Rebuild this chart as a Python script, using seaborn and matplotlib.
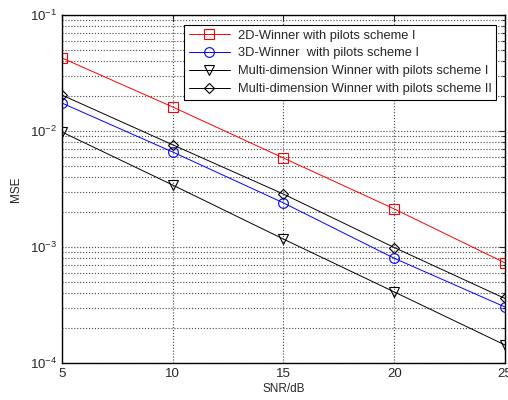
import numpy as np
import pandas as pd
import matplotlib
matplotlib.use("Agg")
import matplotlib.pyplot as plt
import seaborn as sns
from matplotlib.ticker import LogLocator, NullFormatter, FixedLocator

# data
snr = [5, 10, 15, 20, 25]
mse_2d = [0.0426, 0.0161, 0.00585, 0.00213, 0.00073]
mse_3d = [0.0174, 0.00659, 0.0024, 0.00080, 0.000304]
mse_md1 = [0.0098, 0.00342, 0.00117, 0.00041, 0.000143]
mse_md2 = [0.0204, 0.0076, 0.00286, 0.00099, 0.00036]

labels = ["2D-Winner with pilots scheme I",
          "3D-Winner  with pilots scheme I",
          "Multi-dimension Winner with pilots scheme I",
          "Multi-dimension Winner with pilots scheme II"]
colors = ["#ff0000", "#0000ff", "#000000", "#000000"]
markers = ["s", "o", "v", "D"]
msizes = [7, 7, 7, 5.5]

sns.set_style("white")
plt.rcParams["font.family"] = ["Liberation Sans", "DejaVu Sans"]
plt.rcParams["mathtext.default"] = "regular"

fig = plt.figure(figsize=(5.08, 4.0), dpi=100)
ax = fig.add_axes([0.122, 0.0925, 0.872, 0.87])

for vals, lab, c, m, ms in zip([mse_2d, mse_3d, mse_md1, mse_md2], labels, colors, markers, msizes):
    df = pd.DataFrame({"SNR": snr, "MSE": vals})
    sns.lineplot(data=df, x="SNR", y="MSE", ax=ax, color=c, marker=m,
                 markersize=ms, markerfacecolor="none", markeredgecolor=c,
                 markeredgewidth=0.8, linewidth=0.7, label=lab)

ax.set_yscale("log")
ax.set_xlim(5, 25)
ax.set_ylim(1e-4, 1e-1)
ax.set_xticks([5, 10, 15, 20, 25])
ax.set_xticklabels(["5", "10", "15", "20", "25"])
ax.yaxis.set_major_locator(FixedLocator([1e-4, 1e-3, 1e-2, 1e-1]))
ax.set_yticklabels(["$10^{-4}$", "$10^{-3}$", "$10^{-2}$", "$10^{-1}$"])
ax.yaxis.set_minor_locator(LogLocator(base=10, subs=np.arange(2, 10)))
ax.yaxis.set_minor_formatter(NullFormatter())

ax.grid(True, which="major", axis="both", linestyle=":", color="#444444", linewidth=0.8)
ax.grid(True, which="minor", axis="y", linestyle=":", color="#444444", linewidth=0.8)
ax.tick_params(which="both", direction="in", top=True, right=True, labelsize=9.5,
               length=4, width=0.8)
ax.tick_params(which="minor", length=2)
for s in ax.spines.values():
    s.set_linewidth(1.0)
    s.set_color("black")

ax.set_xlabel("SNR/dB", fontsize=8.5, labelpad=2)
ax.set_ylabel("MSE", fontsize=8.5, labelpad=6)

leg = ax.legend(loc="upper right", fontsize=9.3, frameon=True, fancybox=False,
                edgecolor="black", framealpha=1, borderpad=0.35,
                handlelength=3.2, handletextpad=0.6, labelspacing=0.45,
                borderaxespad=0.5, bbox_to_anchor=(0.995, 0.99))
leg.get_frame().set_linewidth(0.8)

fig.savefig("out.png", dpi=100)
